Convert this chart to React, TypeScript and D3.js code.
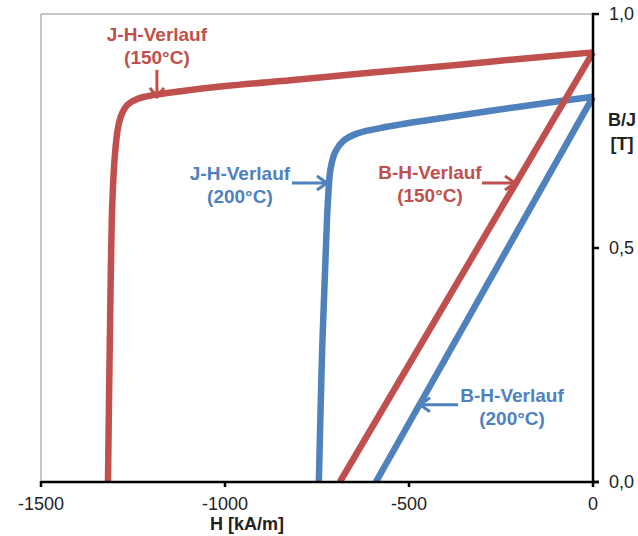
import * as d3 from "d3";

// J-H curve, 150°C (red)
const jh150H = [-1318, -1313, -1306, -1298, -1290, -1280, -1265, -1240, -1200, -1120, -1000, -800, -600, -400, -200, 0];
const jh150J = [0, 0.3, 0.6, 0.71, 0.76, 0.787, 0.806, 0.818, 0.826, 0.835, 0.846, 0.86, 0.875, 0.889, 0.904, 0.918];

// J-H curve, 200°C (blue)
const jh200H = [-745, -736, -726, -720, -713, -700, -678, -640, -560, -400, -200, 0];
const jh200J = [0, 0.282, 0.496, 0.605, 0.67, 0.706, 0.729, 0.745, 0.759, 0.779, 0.802, 0.823];

// B-H lines
const bh150H = [-688, 0];
const bh150B = [0, 0.918];
const bh200H = [-590, 0];
const bh200B = [0, 0.823];

const xTicks = [-1500, -1000, -500, 0];
const yTicks = [0, 0.5, 1];

const red = "#C0504D";
const blue = "#4F81BD";

const width = 638;
const height = 536;
const margin = { left: 41, right: 45, top: 14, bottom: 54 };

type Note = {
  lines: string[];
  color: string;
  tipH: number;
  tipJ: number;
  dir: "down" | "right" | "left";
  len: number;
  textDx: number;
  textDy: number;
};

// arrow tip in data units, label offset (px) from the tip
const notes: Note[] = [
  { lines: ["J-H-Verlauf", "(150°C)"], color: red, tipH: -1185, tipJ: 0.823, dir: "down", len: 27, textDx: 0, textDy: -56 },
  { lines: ["J-H-Verlauf", "(200°C)"], color: blue, tipH: -723, tipJ: 0.639, dir: "right", len: 35, textDx: -87, textDy: -3 },
  { lines: ["B-H-Verlauf", "(150°C)"], color: red, tipH: -212, tipJ: 0.639, dir: "right", len: 33, textDx: -85, textDy: -4 },
  { lines: ["B-H-Verlauf", "(200°C)"], color: blue, tipH: -470, tipJ: 0.165, dir: "left", len: 38, textDx: 92, textDy: -3 },
];

const font = "'Liberation Sans', Arial, sans-serif";

function App() {
  const x = d3.scaleLinear().domain([-1500, 0]).range([margin.left, width - margin.right]);
  const y = d3.scaleLinear().domain([0, 1]).range([height - margin.bottom, margin.top]);
  const x0 = x(-1500);
  const x1 = x(0);
  const y0 = y(0);
  const y1 = y(1);

  const curve = d3
    .line<[number, number]>()
    .x((d) => x(d[0]))
    .y((d) => y(d[1]))
    .curve(d3.curveCatmullRom.alpha(0.5));
  const straight = d3
    .line<[number, number]>()
    .x((d) => x(d[0]))
    .y((d) => y(d[1]));

  const zip = (a: number[], b: number[]) => a.map((v, i) => [v, b[i]] as [number, number]);

  const series = [
    { d: curve(zip(jh150H, jh150J)), color: red },
    { d: curve(zip(jh200H, jh200J)), color: blue },
    { d: straight(zip(bh150H, bh150B)), color: red },
    { d: straight(zip(bh200H, bh200B)), color: blue },
  ];

  return (
    <svg width={width} height={height} style={{ position: "absolute", left: 0, top: 0, background: "#fff" }}>
      <defs>
        <clipPath id="plotclip">
          <rect x={x0} y={y1 - 2} width={x1 - x0 + 4} height={y0 - y1 + 4} />
        </clipPath>
      </defs>
      <rect x={0} y={0} width={width} height={height} fill="#fff" />
      {/* plot frame */}
      <line x1={x0} x2={x1} y1={y1} y2={y1} stroke="#8c8c8c" strokeWidth={1} />
      <line x1={x0} x2={x0} y1={y1} y2={y0} stroke="#8c8c8c" strokeWidth={1} />

      <g clipPath="url(#plotclip)">
        {series.map((s, i) => (
          <path key={i} d={s.d ?? ""} fill="none" stroke={s.color} strokeWidth={6.5} strokeLinejoin="round" />
        ))}
      </g>

      {/* x axis */}
      <line x1={x0} x2={x1 + 6} y1={y0} y2={y0} stroke="#000" strokeWidth={2.5} />
      {xTicks.map((t) => (
        <g key={t}>
          <line x1={x(t)} x2={x(t)} y1={y0 - 1} y2={y0 + 5} stroke="#000" strokeWidth={2.5} />
          <text x={x(t)} y={y0 + 28} textAnchor="middle" fontFamily={font} fontSize={18} fill="#222">
            {t}
          </text>
        </g>
      ))}
      <text x={247} y={y0 + 48} textAnchor="middle" fontFamily={font} fontSize={18} fontWeight="bold" fill="#222">
        H [kA/m]
      </text>

      {/* y axis (right) */}
      <line x1={x1} x2={x1} y1={y1 - 1} y2={y0} stroke="#000" strokeWidth={2.5} />
      {yTicks.map((t) => (
        <g key={t}>
          <line x1={x1 - 1} x2={x1 + 6} y1={y(t)} y2={y(t)} stroke="#000" strokeWidth={2.5} />
          <text x={x1 + 16} y={y(t) + 6} fontFamily={font} fontSize={18} fill="#222">
            {d3.format(".1f")(t).replace(".", ",")}
          </text>
        </g>
      ))}
      <text x={622} y={126} textAnchor="middle" fontFamily={font} fontSize={18} fontWeight="bold" fill="#222">
        B/J
      </text>
      <text x={622} y={150} textAnchor="middle" fontFamily={font} fontSize={18} fontWeight="bold" fill="#222">
        [T]
      </text>

      {/* annotations */}
      {notes.map((n, i) => {
        const tx = x(n.tipH);
        const ty = y(n.tipJ);
        let sx = tx;
        let sy = ty;
        let head = "";
        if (n.dir === "down") {
          sy = ty - n.len;
          head = `M${tx - 7},${ty - 9}L${tx},${ty}L${tx + 7},${ty - 9}`;
        } else if (n.dir === "right") {
          sx = tx - n.len;
          head = `M${tx - 10},${ty - 7}L${tx},${ty}L${tx - 10},${ty + 7}`;
        } else {
          sx = tx + n.len;
          head = `M${tx + 10},${ty - 7}L${tx},${ty}L${tx + 10},${ty + 7}`;
        }
        return (
          <g key={i}>
            <line x1={sx} y1={sy} x2={tx} y2={ty} stroke={n.color} strokeWidth={3} />
            <path d={head} fill="none" stroke={n.color} strokeWidth={3} />
            {n.lines.map((l, k) => (
              <text
                key={k}
                x={tx + n.textDx}
                y={ty + n.textDy + k * 23}
                textAnchor="middle"
                fontFamily={font}
                fontSize={19}
                fontWeight="bold"
                fill={n.color}
              >
                {l}
              </text>
            ))}
          </g>
        );
      })}
    </svg>
  );
}

export default App;
